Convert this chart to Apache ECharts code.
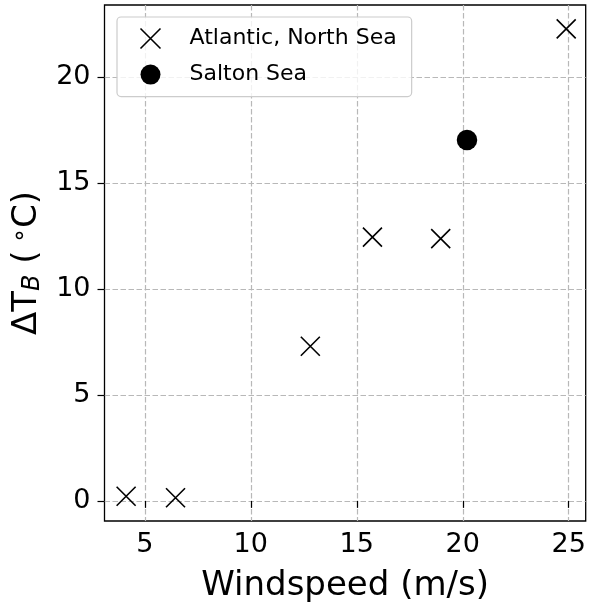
<!DOCTYPE html>
<html>
<head>
<meta charset="utf-8">
<script src="https://cdn.jsdelivr.net/npm/echarts@6/dist/echarts.min.js"></script>
<style>
html,body{margin:0;padding:0;background:#fff;}
#c{width:589px;height:613px;}
</style>
</head>
<body>
<div id="c"></div>
<script>
var atlanticX = [4.12, 6.45, 12.81, 15.74, 18.96, 24.88];
var atlanticY = [0.22, 0.15, 7.3, 12.45, 12.38, 22.28];
var saltonX = [20.2];
var saltonY = [17.04];
var xTicks = [5, 10, 15, 20, 25];
var yTicks = [0, 5, 10, 15, 20];
var seriesNames = ['Atlantic, North Sea', 'Salton Sea'];

function pairs(xs, ys) { return xs.map(function (x, i) { return [x, ys[i]]; }); }

var FONT = 'DejaVu Sans';
var XPATH = 'path://M0,0L10,10M10,0L0,10';
var gridLine = { show: true, lineStyle: { color: '#b8b8b8', width: 1.2, type: [5.5, 2.5] } };

var chart = echarts.init(document.getElementById('c'), null, { renderer: 'canvas' });
chart.setOption({
  animation: false,
  backgroundColor: '#fff',
  textStyle: { fontFamily: FONT },
  grid: {
    left: 104.5, right: 3.3, top: 5, bottom: 92,
    show: true, borderColor: '#000', borderWidth: 1.3, backgroundColor: 'transparent',
    containLabel: false, outerBoundsMode: 'none'
  },
  legend: {
    orient: 'vertical',
    left: 117, top: 17,
    padding: [9, 15, 11, 21],
    itemGap: 12.6,
    itemWidth: 20, itemHeight: 20,
    backgroundColor: 'rgba(255,255,255,0.8)',
    borderColor: '#cccccc', borderWidth: 1.2, borderRadius: 4,
    textStyle: { fontFamily: FONT, fontSize: 22, color: '#000', padding: [0, 0, 0, 24] },
    data: [
      { name: seriesNames[0], icon: XPATH, itemStyle: { color: 'none', borderColor: '#000', borderWidth: 1.6, opacity: 1 } },
      { name: seriesNames[1], icon: 'circle', itemStyle: { color: '#000', borderWidth: 0, opacity: 1 } }
    ]
  },
  xAxis: {
    type: 'value', min: 3.1, max: 25.8,
    name: 'Windspeed (m/s)', nameLocation: 'middle', nameGap: 48,
    nameTextStyle: { fontFamily: FONT, fontSize: 34, color: '#000' },
    axisLine: { show: false },
    axisTick: { show: true, customValues: xTicks, length: 7, lineStyle: { color: '#000', width: 1.2 } },
    axisLabel: { customValues: xTicks, margin: 10, fontFamily: FONT, fontSize: 27, color: '#000' },
    splitLine: Object.assign({ customValues: xTicks }, gridLine)
  },
  yAxis: {
    type: 'value', min: -0.95, max: 23.41,
    name: '{a|ΔT}{sub|B}{a| (}{sup| ∘}{a|C)}', nameLocation: 'middle', nameGap: 51, nameRotate: 90,
    nameTextStyle: {
      fontFamily: FONT, fontSize: 34, color: '#000',
      rich: {
        a: { fontFamily: FONT, fontSize: 34, color: '#000' },
        sub: { fontFamily: FONT, fontSize: 24, fontStyle: 'italic', color: '#000', verticalAlign: 'bottom', padding: [10, 0, 0, 0] },
        sup: { fontFamily: FONT, fontSize: 24, color: '#000', verticalAlign: 'top', padding: [0, 0, 12, 0] }
      }
    },
    axisLine: { show: false },
    axisTick: { show: true, customValues: yTicks, length: 7, lineStyle: { color: '#000', width: 1.2 } },
    axisLabel: { customValues: yTicks, margin: 14, fontFamily: FONT, fontSize: 27, color: '#000' },
    splitLine: Object.assign({ customValues: yTicks }, gridLine)
  },
  series: [
    {
      name: seriesNames[0], type: 'scatter',
      symbol: XPATH, symbolSize: 19,
      itemStyle: { color: 'none', borderColor: '#000', borderWidth: 1.6, opacity: 1 },
      data: pairs(atlanticX, atlanticY), z: 3
    },
    {
      name: seriesNames[1], type: 'scatter',
      symbol: 'circle', symbolSize: 20.5,
      itemStyle: { color: '#000', opacity: 1 },
      data: pairs(saltonX, saltonY), z: 3
    }
  ]
});
</script>
</body>
</html>
